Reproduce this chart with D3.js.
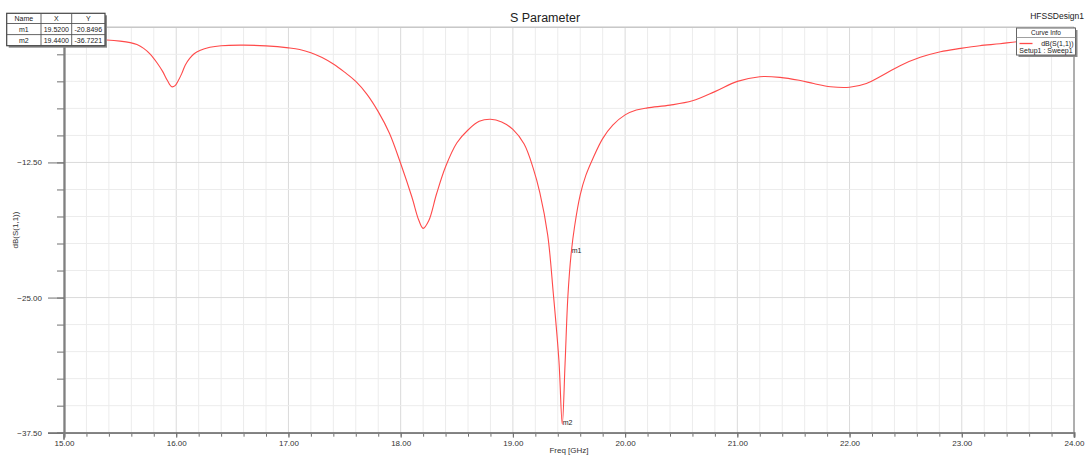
<!DOCTYPE html>
<html><head><meta charset="utf-8">
<script src="https://cdn.jsdelivr.net/npm/d3@7"></script>
<style>
html,body{margin:0;padding:0;background:#fff;}
svg{display:block;font-family:"Liberation Sans",Arial,sans-serif;}
</style></head>
<body>
<svg id="c" width="1088" height="456"></svg>
<script>
// ---- data ----
const freq = [15.00,15.20,15.38,15.50,15.59,15.65,15.71,15.77,15.83,15.88,15.92,15.96,15.99,16.02,16.05,16.08,16.12,16.16,16.21,16.30,16.40,16.60,16.80,17.00,17.10,17.20,17.30,17.40,17.50,17.60,17.70,17.80,17.90,18.00,18.10,18.16,18.20,18.25,18.32,18.40,18.50,18.60,18.70,18.80,18.90,19.00,19.10,19.18,19.24,19.31,19.36,19.41,19.44,19.465,19.49,19.52,19.55,19.60,19.65,19.71,19.80,19.89,20.00,20.10,20.20,20.40,20.60,20.80,21.00,21.20,21.38,21.55,21.68,21.83,22.00,22.15,22.27,22.45,22.63,22.81,22.99,23.16,23.34,23.49,23.70,24.00];
const sdb = [-1.10,-1.12,-1.18,-1.28,-1.42,-1.60,-1.95,-2.50,-3.30,-4.10,-4.90,-5.50,-5.40,-4.90,-4.26,-3.50,-2.87,-2.45,-2.15,-1.85,-1.70,-1.65,-1.72,-1.90,-2.05,-2.35,-2.80,-3.40,-4.15,-5.00,-6.20,-7.80,-9.80,-12.60,-15.70,-17.80,-18.60,-17.90,-15.40,-12.90,-10.70,-9.50,-8.70,-8.50,-8.75,-9.45,-10.80,-13.00,-15.30,-19.20,-24.60,-30.80,-36.72,-31.10,-24.90,-20.85,-18.40,-15.50,-13.70,-12.20,-10.30,-9.05,-8.10,-7.65,-7.45,-7.20,-6.80,-5.95,-5.00,-4.57,-4.63,-4.90,-5.20,-5.50,-5.55,-5.20,-4.57,-3.55,-2.78,-2.26,-1.95,-1.70,-1.52,-1.33,-1.25,-1.20];
const xMajorTicks = [15,16,17,18,19,20,21,22,23,24];
const xMinorTicks = d3.range(0,46).map(i => 15 + i*0.2);
const yMajorTicks = [-37.5,-25,-12.5];
const yMinorTicks = d3.range(0,16).map(i => -37.5 + i*2.5);
const markerNames = ["m1","m2"];
const markerX = [19.52,19.44];
const markerY = [-20.8496,-36.7221];
const markerXText = ["19.5200","19.4400"];
const markerYText = ["-20.8496","-36.7221"];
const title = "S Parameter";
const designName = "HFSSDesign1";
const xLabel = "Freq [GHz]";
const yLabel = "dB(S(1,1))";
const legendTitle = "Curve Info";
const seriesName = "dB(S(1,1))";
const seriesSetup = "Setup1 : Sweep1";

// ---- chart ----
const svg = d3.select("#c");
const L = 64, R = 1074, T = 27.3, B = 432.7;
const x = d3.scaleLinear().domain([15,24]).range([L,R]);
const y = d3.scaleLinear().domain([-37.5,0]).range([B,T]);

// grid
const g = svg.append("g");
g.selectAll("line.vx").data(xMinorTicks).join("line")
  .attr("x1", d=>x(d)).attr("x2", d=>x(d)).attr("y1", T).attr("y2", B)
  .attr("stroke", d => Math.abs(d-Math.round(d))<1e-6 ? "#dadada" : "#ececec").attr("stroke-width",1);
g.selectAll("line.hy").data(yMinorTicks).join("line")
  .attr("y1", d=>y(d)).attr("y2", d=>y(d)).attr("x1", L).attr("x2", R)
  .attr("stroke", d => yMajorTicks.includes(d) ? "#dadada" : "#ececec").attr("stroke-width",1);

// borders
svg.append("line").attr("x1",L).attr("x2",R).attr("y1",T).attr("y2",T).attr("stroke","#c8c8c8").attr("stroke-width",1.5);
svg.append("line").attr("x1",R).attr("x2",R).attr("y1",T).attr("y2",B).attr("stroke","#9a9a9a").attr("stroke-width",1.5);

// axes
function styleAxis(sel){
  sel.select(".domain").attr("stroke","#808080").attr("stroke-width",1.8);
  sel.selectAll(".tick line").attr("stroke","#707070").attr("stroke-width",1);
  sel.selectAll(".tick text").attr("fill","#333").attr("font-size","8px").attr("font-family","Liberation Sans, Arial, sans-serif");
}
const yMinorAxis = svg.append("g").attr("transform",`translate(${L},0)`)
  .call(d3.axisLeft(y).tickValues(yMinorTicks.concat([0])).tickSize(7).tickFormat(""));
styleAxis(yMinorAxis);
const yAxis = svg.append("g").attr("transform",`translate(${L},0)`)
  .call(d3.axisLeft(y).tickValues(yMajorTicks).tickSize(16).tickPadding(6).tickFormat(d3.format(".2f")));
styleAxis(yAxis);
const xMinorAxis = svg.append("g").attr("transform",`translate(0,${B})`)
  .call(d3.axisBottom(x).tickValues(xMinorTicks).tickSize(4).tickFormat(""));
styleAxis(xMinorAxis);
const xAxis = svg.append("g").attr("transform",`translate(0,${B})`)
  .call(d3.axisBottom(x).tickValues(xMajorTicks).tickSize(5).tickPadding(2.5).tickFormat(d3.format(".2f")));
styleAxis(xAxis);
svg.append("line").attr("x1",L).attr("x2",L).attr("y1",B).attr("y2",B+7).attr("stroke","#808080").attr("stroke-width",1.8);

// axis labels
svg.append("text").attr("x",(L+R)/2).attr("y",453).attr("text-anchor","middle")
  .attr("font-size","8px").attr("fill","#333").text(xLabel);
svg.append("text").attr("transform",`translate(18,${(T+B)/2}) rotate(-90)`).attr("text-anchor","middle")
  .attr("font-size","8px").attr("fill","#333").text(yLabel);

// title
svg.append("text").attr("x",545).attr("y",22).attr("text-anchor","middle")
  .attr("font-size","12.5px").attr("fill","#222").text(title);
svg.append("text").attr("x",1084).attr("y",19).attr("text-anchor","end")
  .attr("font-size","8.5px").attr("fill","#222").text(designName);

// curve
const data = freq.map((f,i)=>({f, v: sdb[i]}));
const line = d3.line().x(d=>x(d.f)).y(d=>y(d.v)).curve(d3.curveCatmullRom.alpha(0.5));
svg.append("path").datum(data).attr("d",line).attr("fill","none")
  .attr("stroke","#ff4a4a").attr("stroke-width",1.1);

// marker labels
markerNames.forEach((m,i)=>{
  svg.append("text").attr("x", x(markerX[i])+0.5).attr("y", y(markerY[i])+0.5)
    .attr("font-size","7px").attr("fill","#222").text(m);
});

// legend box
const lg = svg.append("g");
const lx = 1016.5, ly = 28, lw = 59, lh = 27;
lg.append("rect").attr("x",lx+2).attr("y",ly+2).attr("width",lw).attr("height",lh).attr("fill","#8a8a8a");
lg.append("rect").attr("x",lx).attr("y",ly).attr("width",lw).attr("height",lh).attr("fill","#fff").attr("stroke","#666").attr("stroke-width",1);
lg.append("line").attr("x1",lx).attr("x2",lx+lw).attr("y1",ly+9.5).attr("y2",ly+9.5).attr("stroke","#888").attr("stroke-width",0.8);
lg.append("text").attr("x",lx+lw/2).attr("y",ly+7.3).attr("text-anchor","middle").attr("font-size","6.5px").attr("fill","#222").text(legendTitle);
lg.append("line").attr("x1",lx+3).attr("x2",lx+16).attr("y1",ly+15.5).attr("y2",ly+15.5).attr("stroke","#ff4a4a").attr("stroke-width",1.3);
lg.append("text").attr("x",lx+lw-2).attr("y",ly+17.5).attr("text-anchor","end").attr("font-size","7px").attr("fill","#222").text(seriesName);
lg.append("text").attr("x",lx+lw/2).attr("y",ly+25).attr("text-anchor","middle").attr("font-size","7px").attr("fill","#222").text(seriesSetup);

// marker table
const tg = svg.append("g");
const tx = 6.7, ty = 13.3;
const colW = [34.3, 30.7, 33.3];
const rowH = [10.2, 11.1, 11.1];
const tw = d3.sum(colW), th = d3.sum(rowH);
tg.append("rect").attr("x",tx+2).attr("y",ty+2).attr("width",tw).attr("height",th).attr("fill","#8a8a8a");
tg.append("rect").attr("x",tx).attr("y",ty).attr("width",tw).attr("height",th).attr("fill","#fff").attr("stroke","#444").attr("stroke-width",1.2);
const rows = [["Name","X","Y"]].concat(markerNames.map((m,i)=>[m, markerXText[i], markerYText[i]]));
let cy = ty;
rows.forEach((r,ri)=>{
  let cx = tx;
  r.forEach((c,ci)=>{
    tg.append("text").attr("x",cx+colW[ci]/2).attr("y",cy+rowH[ri]/2+2.5).attr("text-anchor","middle")
      .attr("font-size","7px").attr("fill","#222").text(c);
    cx += colW[ci];
  });
  cy += rowH[ri];
  if (ri < rows.length-1) tg.append("line").attr("x1",tx).attr("x2",tx+tw).attr("y1",cy).attr("y2",cy).attr("stroke","#555").attr("stroke-width",0.9);
});
let vx = tx;
colW.slice(0,-1).forEach(w=>{ vx += w;
  tg.append("line").attr("x1",vx).attr("x2",vx).attr("y1",ty).attr("y2",ty+th).attr("stroke","#555").attr("stroke-width",0.9);
});
</script>
</body></html>
